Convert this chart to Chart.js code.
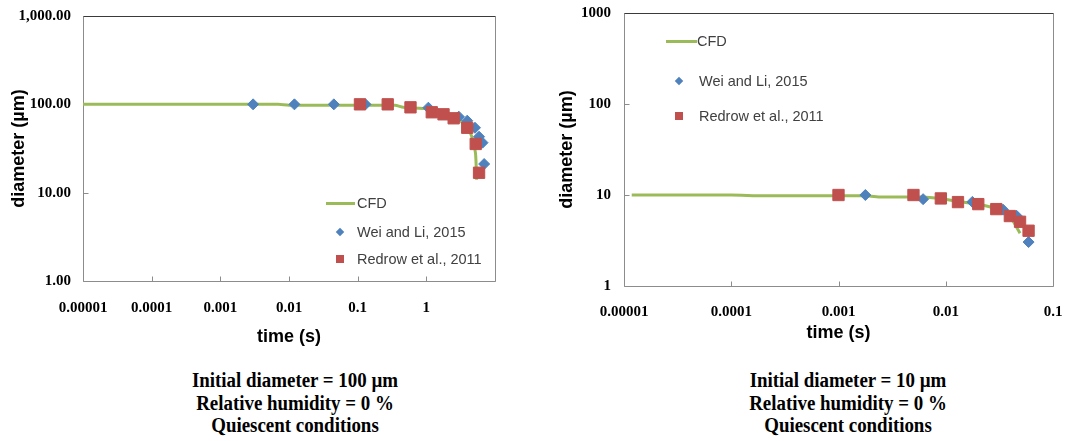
<!DOCTYPE html>
<html>
<head>
<meta charset="utf-8">
<script src="https://cdn.jsdelivr.net/npm/chart.js@4.4.0/dist/chart.umd.min.js"></script>
<style>
  body { margin: 0; background: #fff; width: 1065px; height: 441px; position: relative; overflow: hidden; font-family: "Liberation Sans", Arial, sans-serif; }
  .box { position: absolute; top: 0; height: 350px; }
  .item { position: absolute; white-space: nowrap; font-size: 14.5px; line-height: 18px; color: #404040; }
  .lineMark { position: absolute; height: 3px; background: #9bbb59; }
  .dia { position: absolute; width: 6px; height: 6px; background: #4f81bd; transform: rotate(45deg); }
  .sq { position: absolute; width: 8px; height: 8px; background: #c0504d; }
  .caption { position: absolute; width: 400px; text-align: center; font-family: "Liberation Serif", "Times New Roman", serif; font-weight: bold; font-size: 20px; line-height: 22.5px; color: #000; transform: scaleX(0.945); }
</style>
</head>
<body>
<div class="box" style="left:0;width:530px"><canvas id="chartA" width="530" height="350"></canvas></div>
<div class="box" style="left:530px;width:535px"><canvas id="chartB" width="535" height="350"></canvas></div>

<!-- legends -->
<div class="lineMark" style="left:326px;top:202px;width:29px"></div>
<div class="item" style="left:357px;top:194px">CFD</div>
<div class="dia" style="left:337px;top:229px"></div>
<div class="item" style="left:357px;top:223px">Wei and Li, 2015</div>
<div class="sq" style="left:336px;top:255px"></div>
<div class="item" style="left:357px;top:250px">Redrow et al., 2011</div>

<div class="lineMark" style="left:666px;top:40px;width:31px"></div>
<div class="item" style="left:697px;top:32px">CFD</div>
<div class="dia" style="left:676px;top:78px"></div>
<div class="item" style="left:699px;top:72px">Wei and Li, 2015</div>
<div class="sq" style="left:675px;top:112px"></div>
<div class="item" style="left:699px;top:107px">Redrow et al., 2011</div>

<div class="caption" style="left:95px;top:369px">Initial diameter = 100 µm<br>Relative humidity = 0 %<br>Quiescent conditions</div>
<div class="caption" style="left:648px;top:369px">Initial diameter = 10 µm<br>Relative humidity = 0 %<br>Quiescent conditions</div>

<script>
// ---- left chart: initial diameter 100 µm ----
const cfdTimeA = [0.00001, 0.007, 0.01, 0.35, 0.46, 1.07, 1.78, 2.5, 3.1, 3.9, 4.6, 5.2, 5.4];
const cfdDiamA = [100, 100, 97.5, 97.5, 92.5, 88.5, 79, 71, 65, 56, 43, 28, 14];
const weiTimeA = [0.003, 0.012, 0.045, 0.13, 1.07, 2.97, 3.94, 5.11, 5.86, 6.58, 6.95];
const weiDiamA = [100, 100, 100, 100, 91.6, 72.5, 65.3, 54.3, 43, 36.8, 21.1];
const redTimeA = [0.108, 0.274, 0.588, 1.2, 1.78, 2.5, 3.94, 5.24, 5.86];
const redDiamA = [100, 100, 92.5, 81.3, 77.1, 69.5, 54.3, 35.6, 16.8];
const xTicksA = [0.00001, 0.0001, 0.001, 0.01, 0.1, 1, 10];
const xLabelsA = ['0.00001', '0.0001', '0.001', '0.01', '0.1', '1', ''];
const yTicksA = [1, 10, 100, 1000];
const yLabelsA = ['1.00', '10.00', '100.00', '1,000.00'];

// ---- right chart: initial diameter 10 µm ----
const cfdTimeB = [0.0000118, 0.0001, 0.0002, 0.0018, 0.0025, 0.006, 0.009, 0.013, 0.02, 0.03, 0.04, 0.0493];
const cfdDiamB = [10, 10, 9.8, 9.8, 9.5, 9.5, 9.1, 8.5, 7.9, 7.0, 5.7, 3.8];
const weiTimeB = [0.00178, 0.00615, 0.0177, 0.0342, 0.0458, 0.0592];
const weiDiamB = [10, 9.0, 8.4, 6.9, 5.9, 3.04];
const redTimeB = [0.001, 0.005, 0.009, 0.013, 0.0201, 0.0296, 0.0396, 0.0493, 0.0592];
const redDiamB = [10, 10, 9.17, 8.36, 7.94, 7.0, 5.87, 5.08, 4.05];
const xTicksB = [0.00001, 0.0001, 0.001, 0.01, 0.1];
const xLabelsB = ['0.00001', '0.0001', '0.001', '0.01', '0.1'];
const yTicksB = [1, 10, 100, 1000];
const yLabelsB = ['1', '10', '100', '1000'];

const pts = (xs, ys) => xs.map((x, i) => ({ x: x, y: ys[i] }));

// plot frame + short inward tick marks
const framePlugin = {
    id: 'frame',
    beforeDatasetsDraw(chart) {
        const { ctx, chartArea: a, scales: { x, y } } = chart;
        const l = Math.round(a.left) + 0.5, r = Math.round(a.right) + 0.5;
        const t = Math.round(a.top) + 0.5, b = Math.round(a.bottom) + 0.5;
        ctx.save();
        ctx.lineWidth = 1;
        ctx.strokeStyle = '#8c8c8c';
        ctx.beginPath();
        x.ticks.forEach(tk => {
            const px = Math.round(x.getPixelForValue(tk.value)) + 0.5;
            ctx.moveTo(px, b); ctx.lineTo(px, b - 5);
        });
        y.ticks.forEach(tk => {
            const py = Math.round(y.getPixelForValue(tk.value)) + 0.5;
            ctx.moveTo(l, py); ctx.lineTo(l + 5, py);
        });
        ctx.moveTo(l, t); ctx.lineTo(l, b); ctx.lineTo(r, b); ctx.lineTo(r, t);
        ctx.stroke();
        ctx.strokeStyle = '#3a3a3a';
        ctx.beginPath();
        ctx.moveTo(l, t); ctx.lineTo(r, t);
        ctx.stroke();
        ctx.restore();
    }
};

const makeChart = (id, s) => {
    const ctx = document.getElementById(id).getContext('2d');
    return new Chart(ctx, {
        type: 'scatter',
        data: {
            datasets: [{
                label: 'CFD',
                data: pts(s.cfdT, s.cfdD),
                showLine: true,
                borderColor: '#9bbb59',
                borderWidth: 3,
                pointRadius: 0,
                tension: 0.2,
                order: 3
            }, {
                label: 'Wei and Li, 2015',
                data: pts(s.weiT, s.weiD),
                pointStyle: 'rectRot',
                pointRadius: 5.5,
                backgroundColor: '#4f81bd',
                borderColor: '#4f81bd',
                borderWidth: 1,
                order: 2
            }, {
                label: 'Redrow et al., 2011',
                data: pts(s.redT, s.redD),
                pointStyle: 'rect',
                pointRadius: 8,
                backgroundColor: '#c0504d',
                borderColor: '#c0504d',
                borderWidth: 1,
                order: 1
            }]
        },
        options: {
            responsive: false,
            animation: false,
            devicePixelRatio: 1,
            layout: { padding: { left: 0, top: s.top, right: s.padRight, bottom: 0 } },
            plugins: { legend: { display: false }, tooltip: { enabled: false } },
            scales: {
                x: {
                    type: 'logarithmic',
                    min: s.xTicks[0],
                    max: s.xTicks[s.xTicks.length - 1],
                    afterBuildTicks: sc => { sc.ticks = s.xTicks.map(v => ({ value: v })); },
                    afterFit: sc => { sc.height = s.xHeight; sc.paddingRight = 0; },
                    grid: { display: false, drawTicks: false },
                    border: { display: false },
                    ticks: {
                        autoSkip: false, maxRotation: 0, padding: s.xPad, color: '#000',
                        font: { family: 'Liberation Serif', weight: 'bold', size: 15 },
                        callback: (v, i) => s.xLabels[i]
                    },
                    title: {
                        display: true, text: 'time (s)', color: '#000',
                        font: { family: 'Liberation Sans', weight: 'bold', size: 18 },
                        padding: { top: 0, bottom: s.xTitlePad }
                    }
                },
                y: {
                    type: 'logarithmic',
                    min: 1,
                    max: 1000,
                    afterBuildTicks: sc => { sc.ticks = s.yTicks.map(v => ({ value: v })); },
                    afterFit: sc => { sc.width = s.yWidth; sc.paddingTop = 0; sc.paddingBottom = 0; },
                    grid: { display: false, drawTicks: false },
                    border: { display: false },
                    ticks: {
                        autoSkip: false, padding: s.yPad, color: '#000',
                        font: { family: 'Liberation Serif', weight: 'bold', size: 15 },
                        callback: (v, i) => s.yLabels[i]
                    },
                    title: {
                        display: true, text: 'diameter (µm)', color: '#000',
                        font: { family: 'Liberation Sans', weight: 'bold', size: 18 },
                        padding: { top: s.yTitlePad, bottom: 0 }
                    }
                }
            }
        },
        plugins: [framePlugin]
    });
};

makeChart('chartA', {
    cfdT: cfdTimeA, cfdD: cfdDiamA, weiT: weiTimeA, weiD: weiDiamA, redT: redTimeA, redD: redDiamA,
    xTicks: xTicksA, xLabels: xLabelsA, yTicks: yTicksA, yLabels: yLabelsA,
    top: 16, padRight: 35, yWidth: 83, xHeight: 69, xPad: 18, yPad: 12, xTitlePad: 2, yTitlePad: 8
});

makeChart('chartB', {
    cfdT: cfdTimeB, cfdD: cfdDiamB, weiT: weiTimeB, weiD: weiDiamB, redT: redTimeB, redD: redDiamB,
    xTicks: xTicksB, xLabels: xLabelsB, yTicks: yTicksB, yLabels: yLabelsB,
    top: 13, padRight: 12, yWidth: 94, xHeight: 64, xPad: 17, yPad: 13, xTitlePad: 6, yTitlePad: 26
});
</script>
</body>
</html>
